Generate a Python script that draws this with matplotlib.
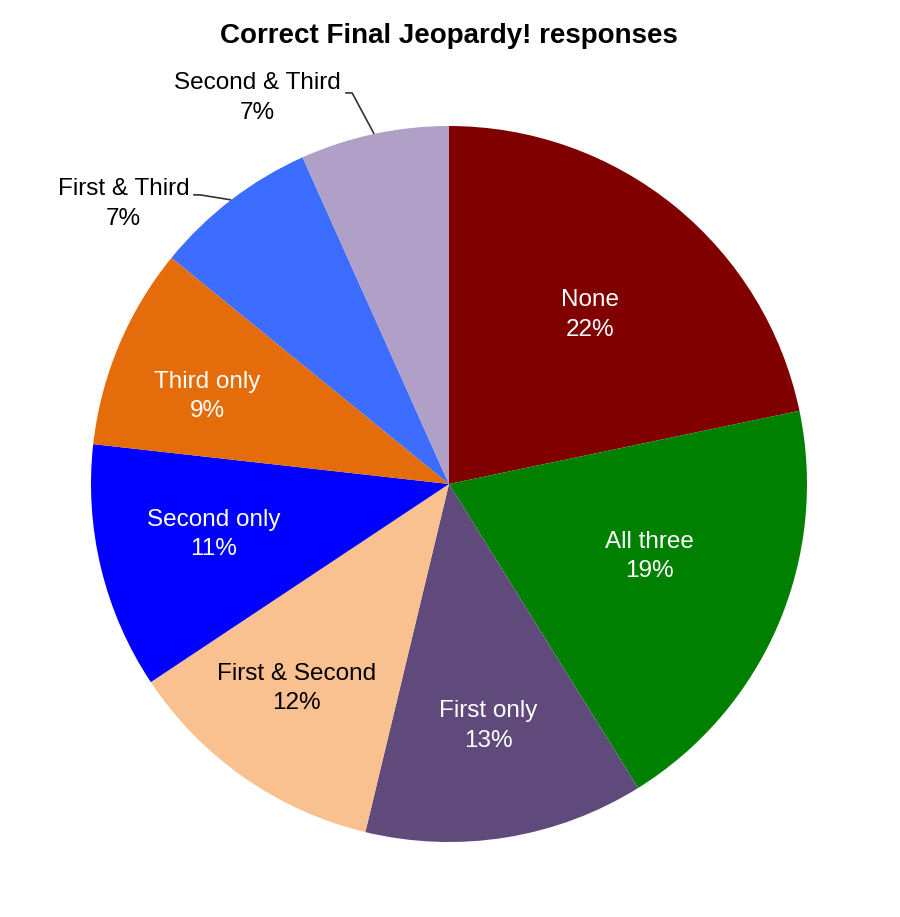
import numpy as np
import matplotlib
matplotlib.use("Agg")
import matplotlib.pyplot as plt

plt.rcParams['font.family'] = ['Liberation Sans', 'DejaVu Sans']

labels = ["None", "All three", "First only", "First & Second",
          "Second only", "Third only", "First & Third", "Second & Third"]
shares = [21.7, 19.4, 12.6, 11.9, 11.1, 9.1, 7.4, 6.7]
pct_text = ["22%", "19%", "13%", "12%", "11%", "9%", "7%", "7%"]
colors = ["#800000", "#008000", "#604a7b", "#f9c090",
          "#0000ff", "#e46c0a", "#3d6dff", "#b0a0c8"]
text_colors = ["white", "white", "white", "black",
               "white", "white", "black", "black"]
# label placement: fraction of radius and angle nudge from the wedge middle
# (None = outside with a leader line)
label_dist = [0.615, 0.596, 0.684, 0.712, 0.673, 0.718, None, None]
label_turn = [-0.7, 3.3, 0.0, -1.7, -1.5, 2.85, 0, 0]
# knee of the leader line, offset from the wedge edge in pixels
leader_knee = {6: (-31, 5), 7: (-22, 41)}
leader_text_dy = {6: -9, 7: -5}

fig = plt.figure(figsize=(9, 9.17), dpi=100)
ax = fig.add_axes([0, 0, 1, 1])

cx, cy, R = 449, 433, 358
wedges, _ = ax.pie(shares, colors=colors, startangle=90, counterclock=False,
                   center=(cx, cy), radius=R, frame=True,
                   wedgeprops=dict(linewidth=0))
ax.set_xlim(0, 900)
ax.set_ylim(0, 917)
ax.set_aspect("equal")
ax.axis("off")

for i, w in enumerate(wedges):
    mid = np.deg2rad((w.theta1 + w.theta2) / 2)
    if label_dist[i] is not None:
        ang = mid + np.deg2rad(label_turn[i])
        r = R * label_dist[i]
        ax.text(cx + r * np.cos(ang), cy + r * np.sin(ang),
                labels[i] + "\n" + pct_text[i], ha="center", va="center",
                fontsize=17.5, color=text_colors[i], linespacing=1.45)
    else:
        ex, ey = cx + R * np.cos(mid), cy + R * np.sin(mid)
        kx, ky = ex + leader_knee[i][0], ey + leader_knee[i][1]
        tx = kx - 7
        ax.plot([ex, kx, tx], [ey, ky, ky], color="#333333", lw=1.2,
                solid_capstyle="butt")
        ax.text(tx - 4, ky + leader_text_dy[i], labels[i] + "\n" + pct_text[i],
                ha="right", va="center", multialignment="center",
                fontsize=17.5, color="black", linespacing=1.45)

ax.text(449, 881, "Correct Final Jeopardy! responses", ha="center",
        va="center", fontsize=20, fontweight="bold")

fig.savefig("out.png", dpi=100)
